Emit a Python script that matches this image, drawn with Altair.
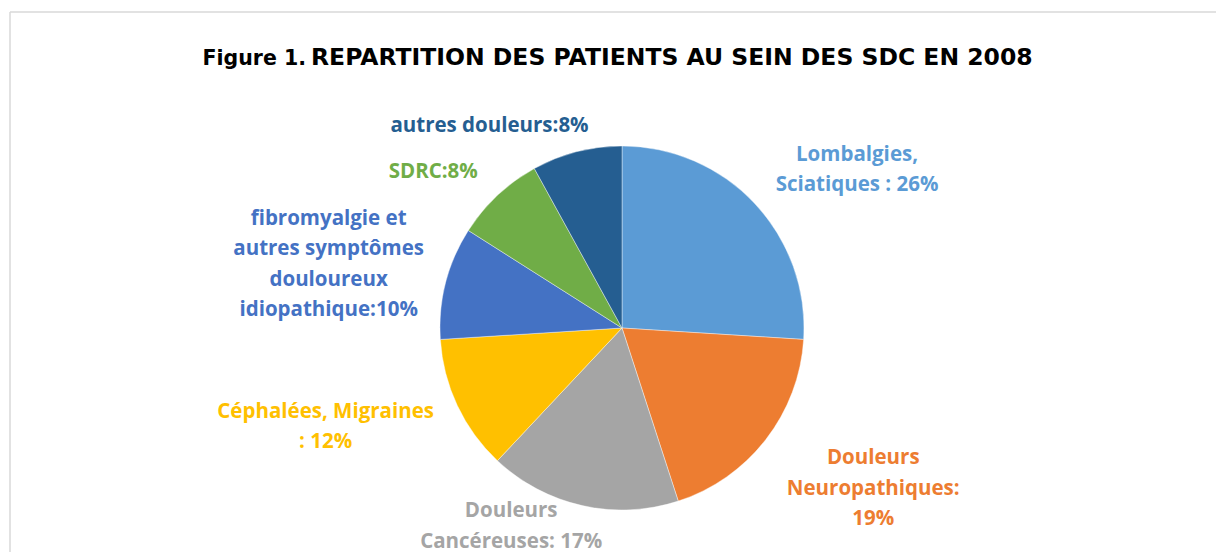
import math
import altair as alt
import pandas as pd

# ---- data ----
categories = [
    "Lombalgies, Sciatiques",
    "Douleurs Neuropathiques",
    "Douleurs Cancéreuses",
    "Céphalées, Migraines",
    "fibromyalgie et autres symptômes douloureux idiopathique",
    "SDRC",
    "autres douleurs",
]
values = [26, 19, 17, 12, 10, 8, 8]
labels = [
    "Lombalgies,\nSciatiques : 26%",
    "Douleurs\nNeuropathiques:\n19%",
    "Douleurs\nCancéreuses: 17%",
    "Céphalées, Migraines\n: 12%",
    "fibromyalgie et\nautres symptômes\ndouloureux\nidiopathique:10%",
    "SDRC:8%",
    "autres douleurs:8%",
]
colors = ["#5B9BD5", "#ED7D31", "#A5A5A5", "#FFC000", "#4472C4", "#70AD47", "#255E91"]
title_prefix = "Figure 1."
title_main = "REPARTITION DES PATIENTS AU SEIN DES SDC EN 2008"

# ---- label layout (polar placement of first line, degrees clockwise from top / pixels) ----
label_angle_deg = [53.6, 117.4, 211.2, 254.2, 290.4, 309.6, 326.8]
label_radius = [292, 283, 214, 308, 313, 245, 242]

df = pd.DataFrame({
    "cat": categories,
    "value": values,
    "label": labels,
    "order": list(range(len(categories))),
    "lt": [math.radians(a) for a in label_angle_deg],
    "lr": label_radius,
})

W, H = 1206, 540
CX, CY = 612, 316
R = 182
FONT = "Open Sans"
TITLE_FONT = "DejaVu Sans"

color_scale = alt.Scale(domain=categories, range=colors)
base = alt.Chart(df)

pie = base.mark_arc(radius=R, stroke="white", strokeWidth=0.4).encode(
    theta=alt.Theta("value:Q", stack=True),
    color=alt.Color("cat:N", scale=color_scale, legend=None),
    order=alt.Order("order:Q"),
    x=alt.value(CX),
    y=alt.value(CY),
)

text = base.mark_text(
    font=FONT, fontSize=20.5, fontWeight="bold", lineBreak="\n", lineHeight=30.5,
    align="center", baseline="middle",
).encode(
    theta=alt.Theta("lt:Q", scale=None),
    radius=alt.Radius("lr:Q", scale=None),
    text="label:N",
    color=alt.Color("cat:N", scale=color_scale, legend=None),
    x=alt.value(CX),
    y=alt.value(CY),
)

title1 = alt.Chart(pd.DataFrame({"t": [title_prefix]})).mark_text(
    font=TITLE_FONT, fontSize=20.5, fontWeight="bold", color="#000000",
    align="right", baseline="alphabetic",
).encode(text="t:N", x=alt.value(296), y=alt.value(52.5))

title2 = alt.Chart(pd.DataFrame({"t": [title_main]})).mark_text(
    font=TITLE_FONT, fontSize=23.5, fontWeight="bold", color="#000000",
    align="left", baseline="alphabetic",
).encode(text="t:N", x=alt.value(301), y=alt.value(52.5))

border_top = alt.Chart(pd.DataFrame({"a": [0]})).mark_rule(color="#D9D9D9", strokeWidth=1.5).encode(
    x=alt.value(0), x2=alt.value(W + 20), y=alt.value(0)
)
border_left = alt.Chart(pd.DataFrame({"a": [0]})).mark_rule(color="#D9D9D9", strokeWidth=1.5).encode(
    x=alt.value(0), y=alt.value(0), y2=alt.value(H + 20)
)

chart = alt.layer(border_top, border_left, pie, text, title1, title2).properties(
    width=W, height=H,
    autosize=alt.AutoSizeParams(type="none"),
    padding={"left": 2, "top": 4, "right": 0, "bottom": 0},
).configure_view(stroke=None)

chart.save("out.html", embed_options={"renderer": "svg", "actions": False})
